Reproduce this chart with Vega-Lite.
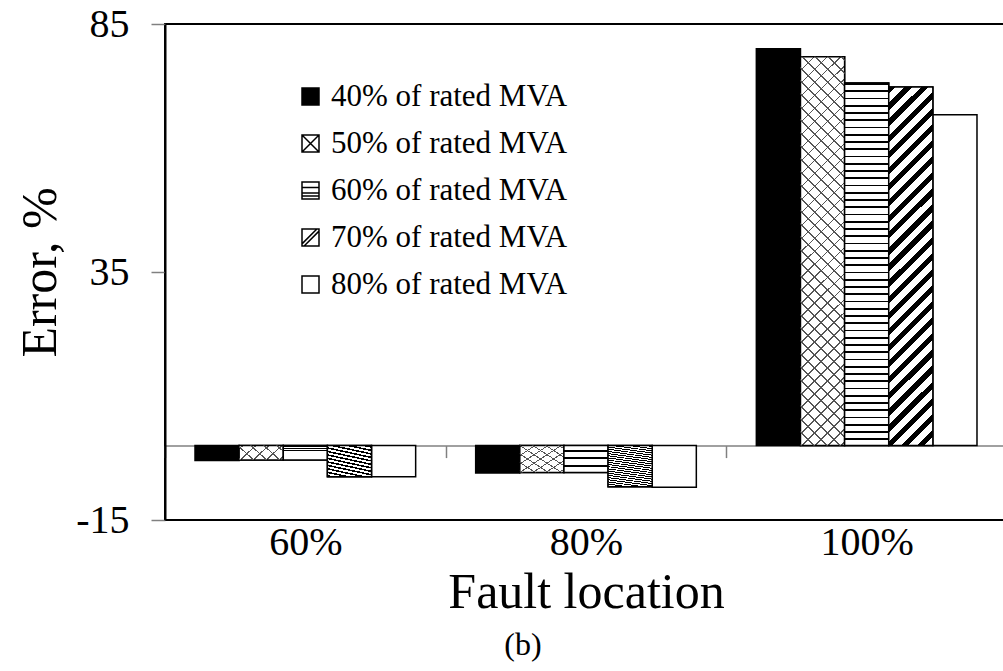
{
"$schema":"https://vega.github.io/schema/vega-lite/v6.json",
"autosize":{"type":"none"},
"padding":{"left":165,"top":24,"right":-4,"bottom":151},
"width":842,"height":496,
"config":{"font":"Liberation Serif","view":{"stroke":"black","strokeWidth":2},"axis":{"labelColor":"black","titleColor":"black","titleFontWeight":"normal","labelFont":"Liberation Serif","titleFont":"Liberation Serif"}},
"title":{"text":"(b)","orient":"bottom","anchor":"middle","fontSize":32,"fontWeight":"normal","font":"Liberation Serif","color":"black","offset":12,"dx":-63},
"data":{"values":[
{"loc":"60%","series":"40% of rated MVA","value":-3.0},
{"loc":"60%","series":"50% of rated MVA","value":-2.9},
{"loc":"60%","series":"60% of rated MVA","value":-2.9},
{"loc":"60%","series":"70% of rated MVA","value":-6.3},
{"loc":"60%","series":"80% of rated MVA","value":-6.3},
{"loc":"80%","series":"40% of rated MVA","value":-5.5},
{"loc":"80%","series":"50% of rated MVA","value":-5.4},
{"loc":"80%","series":"60% of rated MVA","value":-5.4},
{"loc":"80%","series":"70% of rated MVA","value":-8.3},
{"loc":"80%","series":"80% of rated MVA","value":-8.4},
{"loc":"100%","series":"40% of rated MVA","value":80.0},
{"loc":"100%","series":"50% of rated MVA","value":78.4},
{"loc":"100%","series":"60% of rated MVA","value":73.1},
{"loc":"100%","series":"70% of rated MVA","value":72.3},
{"loc":"100%","series":"80% of rated MVA","value":66.7}
]},
"encoding":{
"x":{"field":"loc","type":"nominal","sort":["60%","80%","100%"],"scale":{"paddingInner":0,"paddingOuter":0},
"axis":{"title":"Fault location","labelAngle":0,"offset":-74.4,"domainColor":"#808080","domainWidth":1.5,"tickColor":"#808080","tickWidth":1.5,"tickSize":12,"tickBand":"extent","labelFontSize":40,"labelPadding":65,"titleFontSize":50,"titlePadding":5}},
"xOffset":{"field":"series","type":"nominal","sort":["40% of rated MVA","50% of rated MVA","60% of rated MVA","70% of rated MVA","80% of rated MVA"],"scale":{"paddingInner":0,"paddingOuter":0.68}},
"y":{"field":"value","type":"quantitative","scale":{"domain":[-15,85],"nice":false,"zero":false},
"axis":{"values":[-15,35,85],"grid":false,"title":"Error, %","labelExpr":"replace(datum.label, '\u2212', '-')","domainColor":"black","domainWidth":2,"tickColor":"#808080","tickWidth":1.5,"tickSize":14,"labelFontSize":40,"labelPadding":22,"labelFlush":false,"labelOverlap":false,"titleFontSize":50,"titlePadding":10}}
},
"layer":[
{"mark":{"type":"bar","stroke":"black","strokeWidth":1.5},
"encoding":{"color":{"field":"series","type":"nominal",
"scale":{"domain":["40% of rated MVA","50% of rated MVA","60% of rated MVA","70% of rated MVA","80% of rated MVA"],
"range":["#000000","#ffffff","#ffffff","#ffffff","#ffffff"]},
"legend":{"title":null,"orient":"none","legendX":130,"legendY":57,"symbolType":"square","symbolSize":289,"symbolStrokeColor":"black","symbolStrokeWidth":1.5,"labelFont":"Liberation Serif","labelFontSize":31,"labelColor":"black","labelOffset":5,"rowPadding":15,"padding":0,"labelLimit":0,
"encode":{"symbols":{"update":{"stroke":{"value":"black"},"strokeWidth":{"value":1.5},
"shape":{"signal":"datum.value === '50% of rated MVA' ? 'M-1,-1H1V1H-1Z M-1,-1L1,1 M1,-1L-1,1' : datum.value === '60% of rated MVA' ? 'M-1,-1H1V1H-1Z M-1,-0.35H1 M-1,0.3H1 M-1,0.65H1' : datum.value === '70% of rated MVA' ? 'M-1,-1H1V1H-1Z M-1,0.75L0.75,-1L1,-1L1,-0.75L-0.75,1L-1,1Z' : 'square'"}
}
}
}
}
}
}
},
{"transform":[{"filter":"datum.series === '50% of rated MVA'"}],
"mark":{"type":"bar","stroke":"black","strokeWidth":1.5,"fill":{"gradient":"linear","x1":0,"y1":0,"x2":0.1243,"y2":1.099,"stops":[
{"offset":0,"color":"#555"},{"offset":0.004,"color":"#555"},{"offset":0.004,"color":"#fff"},{"offset":0.03,"color":"#fff"},
{"offset":0.03,"color":"#555"},{"offset":0.034,"color":"#555"},{"offset":0.034,"color":"#fff"},{"offset":0.06,"color":"#fff"},
{"offset":0.06,"color":"#555"},{"offset":0.064,"color":"#555"},{"offset":0.064,"color":"#fff"},{"offset":0.09,"color":"#fff"},
{"offset":0.09,"color":"#555"},{"offset":0.094,"color":"#555"},{"offset":0.094,"color":"#fff"},{"offset":0.12,"color":"#fff"},
{"offset":0.12,"color":"#555"},{"offset":0.124,"color":"#555"},{"offset":0.124,"color":"#fff"},{"offset":0.15,"color":"#fff"},
{"offset":0.15,"color":"#555"},{"offset":0.154,"color":"#555"},{"offset":0.154,"color":"#fff"},{"offset":0.18,"color":"#fff"},
{"offset":0.18,"color":"#555"},{"offset":0.184,"color":"#555"},{"offset":0.184,"color":"#fff"},{"offset":0.21,"color":"#fff"},
{"offset":0.21,"color":"#555"},{"offset":0.214,"color":"#555"},{"offset":0.214,"color":"#fff"},{"offset":0.24,"color":"#fff"},
{"offset":0.24,"color":"#555"},{"offset":0.244,"color":"#555"},{"offset":0.244,"color":"#fff"},{"offset":0.27,"color":"#fff"},
{"offset":0.27,"color":"#555"},{"offset":0.274,"color":"#555"},{"offset":0.274,"color":"#fff"},{"offset":0.3,"color":"#fff"},
{"offset":0.3,"color":"#555"},{"offset":0.304,"color":"#555"},{"offset":0.304,"color":"#fff"},{"offset":0.33,"color":"#fff"},
{"offset":0.33,"color":"#555"},{"offset":0.334,"color":"#555"},{"offset":0.334,"color":"#fff"},{"offset":0.36,"color":"#fff"},
{"offset":0.36,"color":"#555"},{"offset":0.364,"color":"#555"},{"offset":0.364,"color":"#fff"},{"offset":0.39,"color":"#fff"},
{"offset":0.39,"color":"#555"},{"offset":0.394,"color":"#555"},{"offset":0.394,"color":"#fff"},{"offset":0.42,"color":"#fff"},
{"offset":0.42,"color":"#555"},{"offset":0.424,"color":"#555"},{"offset":0.424,"color":"#fff"},{"offset":0.45,"color":"#fff"},
{"offset":0.45,"color":"#555"},{"offset":0.454,"color":"#555"},{"offset":0.454,"color":"#fff"},{"offset":0.48,"color":"#fff"},
{"offset":0.48,"color":"#555"},{"offset":0.484,"color":"#555"},{"offset":0.484,"color":"#fff"},{"offset":0.51,"color":"#fff"},
{"offset":0.51,"color":"#555"},{"offset":0.514,"color":"#555"},{"offset":0.514,"color":"#fff"},{"offset":0.54,"color":"#fff"},
{"offset":0.54,"color":"#555"},{"offset":0.544,"color":"#555"},{"offset":0.544,"color":"#fff"},{"offset":0.57,"color":"#fff"},
{"offset":0.57,"color":"#555"},{"offset":0.574,"color":"#555"},{"offset":0.574,"color":"#fff"},{"offset":0.6,"color":"#fff"},
{"offset":0.6,"color":"#555"},{"offset":0.604,"color":"#555"},{"offset":0.604,"color":"#fff"},{"offset":0.63,"color":"#fff"},
{"offset":0.63,"color":"#555"},{"offset":0.634,"color":"#555"},{"offset":0.634,"color":"#fff"},{"offset":0.66,"color":"#fff"},
{"offset":0.66,"color":"#555"},{"offset":0.664,"color":"#555"},{"offset":0.664,"color":"#fff"},{"offset":0.69,"color":"#fff"},
{"offset":0.69,"color":"#555"},{"offset":0.694,"color":"#555"},{"offset":0.694,"color":"#fff"},{"offset":0.72,"color":"#fff"},
{"offset":0.72,"color":"#555"},{"offset":0.724,"color":"#555"},{"offset":0.724,"color":"#fff"},{"offset":0.75,"color":"#fff"},
{"offset":0.75,"color":"#555"},{"offset":0.754,"color":"#555"},{"offset":0.754,"color":"#fff"},{"offset":0.78,"color":"#fff"},
{"offset":0.78,"color":"#555"},{"offset":0.784,"color":"#555"},{"offset":0.784,"color":"#fff"},{"offset":0.81,"color":"#fff"},
{"offset":0.81,"color":"#555"},{"offset":0.814,"color":"#555"},{"offset":0.814,"color":"#fff"},{"offset":0.84,"color":"#fff"},
{"offset":0.84,"color":"#555"},{"offset":0.844,"color":"#555"},{"offset":0.844,"color":"#fff"},{"offset":0.87,"color":"#fff"},
{"offset":0.87,"color":"#555"},{"offset":0.874,"color":"#555"},{"offset":0.874,"color":"#fff"},{"offset":0.9,"color":"#fff"},
{"offset":0.9,"color":"#555"},{"offset":0.904,"color":"#555"},{"offset":0.904,"color":"#fff"},{"offset":0.93,"color":"#fff"},
{"offset":0.93,"color":"#555"},{"offset":0.934,"color":"#555"},{"offset":0.934,"color":"#fff"},{"offset":0.96,"color":"#fff"},
{"offset":0.96,"color":"#555"},{"offset":0.964,"color":"#555"},{"offset":0.964,"color":"#fff"},{"offset":0.99,"color":"#fff"},
{"offset":0.99,"color":"#555"},{"offset":0.994,"color":"#555"},{"offset":0.994,"color":"#fff"},{"offset":1,"color":"#fff"}
]}},
"encoding":{}},
{"transform":[{"filter":"datum.series === '50% of rated MVA'"}],
"mark":{"type":"bar","strokeWidth":0,"fill":{"gradient":"linear","x1":0,"y1":1,"x2":0.1243,"y2":-0.099,"stops":[
{"offset":0,"color":"#555"},{"offset":0.004,"color":"#555"},{"offset":0.004,"color":"rgba(0,0,0,0)"},{"offset":0.03,"color":"rgba(0,0,0,0)"},
{"offset":0.03,"color":"#555"},{"offset":0.034,"color":"#555"},{"offset":0.034,"color":"rgba(0,0,0,0)"},{"offset":0.06,"color":"rgba(0,0,0,0)"},
{"offset":0.06,"color":"#555"},{"offset":0.064,"color":"#555"},{"offset":0.064,"color":"rgba(0,0,0,0)"},{"offset":0.09,"color":"rgba(0,0,0,0)"},
{"offset":0.09,"color":"#555"},{"offset":0.094,"color":"#555"},{"offset":0.094,"color":"rgba(0,0,0,0)"},{"offset":0.12,"color":"rgba(0,0,0,0)"},
{"offset":0.12,"color":"#555"},{"offset":0.124,"color":"#555"},{"offset":0.124,"color":"rgba(0,0,0,0)"},{"offset":0.15,"color":"rgba(0,0,0,0)"},
{"offset":0.15,"color":"#555"},{"offset":0.154,"color":"#555"},{"offset":0.154,"color":"rgba(0,0,0,0)"},{"offset":0.18,"color":"rgba(0,0,0,0)"},
{"offset":0.18,"color":"#555"},{"offset":0.184,"color":"#555"},{"offset":0.184,"color":"rgba(0,0,0,0)"},{"offset":0.21,"color":"rgba(0,0,0,0)"},
{"offset":0.21,"color":"#555"},{"offset":0.214,"color":"#555"},{"offset":0.214,"color":"rgba(0,0,0,0)"},{"offset":0.24,"color":"rgba(0,0,0,0)"},
{"offset":0.24,"color":"#555"},{"offset":0.244,"color":"#555"},{"offset":0.244,"color":"rgba(0,0,0,0)"},{"offset":0.27,"color":"rgba(0,0,0,0)"},
{"offset":0.27,"color":"#555"},{"offset":0.274,"color":"#555"},{"offset":0.274,"color":"rgba(0,0,0,0)"},{"offset":0.3,"color":"rgba(0,0,0,0)"},
{"offset":0.3,"color":"#555"},{"offset":0.304,"color":"#555"},{"offset":0.304,"color":"rgba(0,0,0,0)"},{"offset":0.33,"color":"rgba(0,0,0,0)"},
{"offset":0.33,"color":"#555"},{"offset":0.334,"color":"#555"},{"offset":0.334,"color":"rgba(0,0,0,0)"},{"offset":0.36,"color":"rgba(0,0,0,0)"},
{"offset":0.36,"color":"#555"},{"offset":0.364,"color":"#555"},{"offset":0.364,"color":"rgba(0,0,0,0)"},{"offset":0.39,"color":"rgba(0,0,0,0)"},
{"offset":0.39,"color":"#555"},{"offset":0.394,"color":"#555"},{"offset":0.394,"color":"rgba(0,0,0,0)"},{"offset":0.42,"color":"rgba(0,0,0,0)"},
{"offset":0.42,"color":"#555"},{"offset":0.424,"color":"#555"},{"offset":0.424,"color":"rgba(0,0,0,0)"},{"offset":0.45,"color":"rgba(0,0,0,0)"},
{"offset":0.45,"color":"#555"},{"offset":0.454,"color":"#555"},{"offset":0.454,"color":"rgba(0,0,0,0)"},{"offset":0.48,"color":"rgba(0,0,0,0)"},
{"offset":0.48,"color":"#555"},{"offset":0.484,"color":"#555"},{"offset":0.484,"color":"rgba(0,0,0,0)"},{"offset":0.51,"color":"rgba(0,0,0,0)"},
{"offset":0.51,"color":"#555"},{"offset":0.514,"color":"#555"},{"offset":0.514,"color":"rgba(0,0,0,0)"},{"offset":0.54,"color":"rgba(0,0,0,0)"},
{"offset":0.54,"color":"#555"},{"offset":0.544,"color":"#555"},{"offset":0.544,"color":"rgba(0,0,0,0)"},{"offset":0.57,"color":"rgba(0,0,0,0)"},
{"offset":0.57,"color":"#555"},{"offset":0.574,"color":"#555"},{"offset":0.574,"color":"rgba(0,0,0,0)"},{"offset":0.6,"color":"rgba(0,0,0,0)"},
{"offset":0.6,"color":"#555"},{"offset":0.604,"color":"#555"},{"offset":0.604,"color":"rgba(0,0,0,0)"},{"offset":0.63,"color":"rgba(0,0,0,0)"},
{"offset":0.63,"color":"#555"},{"offset":0.634,"color":"#555"},{"offset":0.634,"color":"rgba(0,0,0,0)"},{"offset":0.66,"color":"rgba(0,0,0,0)"},
{"offset":0.66,"color":"#555"},{"offset":0.664,"color":"#555"},{"offset":0.664,"color":"rgba(0,0,0,0)"},{"offset":0.69,"color":"rgba(0,0,0,0)"},
{"offset":0.69,"color":"#555"},{"offset":0.694,"color":"#555"},{"offset":0.694,"color":"rgba(0,0,0,0)"},{"offset":0.72,"color":"rgba(0,0,0,0)"},
{"offset":0.72,"color":"#555"},{"offset":0.724,"color":"#555"},{"offset":0.724,"color":"rgba(0,0,0,0)"},{"offset":0.75,"color":"rgba(0,0,0,0)"},
{"offset":0.75,"color":"#555"},{"offset":0.754,"color":"#555"},{"offset":0.754,"color":"rgba(0,0,0,0)"},{"offset":0.78,"color":"rgba(0,0,0,0)"},
{"offset":0.78,"color":"#555"},{"offset":0.784,"color":"#555"},{"offset":0.784,"color":"rgba(0,0,0,0)"},{"offset":0.81,"color":"rgba(0,0,0,0)"},
{"offset":0.81,"color":"#555"},{"offset":0.814,"color":"#555"},{"offset":0.814,"color":"rgba(0,0,0,0)"},{"offset":0.84,"color":"rgba(0,0,0,0)"},
{"offset":0.84,"color":"#555"},{"offset":0.844,"color":"#555"},{"offset":0.844,"color":"rgba(0,0,0,0)"},{"offset":0.87,"color":"rgba(0,0,0,0)"},
{"offset":0.87,"color":"#555"},{"offset":0.874,"color":"#555"},{"offset":0.874,"color":"rgba(0,0,0,0)"},{"offset":0.9,"color":"rgba(0,0,0,0)"},
{"offset":0.9,"color":"#555"},{"offset":0.904,"color":"#555"},{"offset":0.904,"color":"rgba(0,0,0,0)"},{"offset":0.93,"color":"rgba(0,0,0,0)"},
{"offset":0.93,"color":"#555"},{"offset":0.934,"color":"#555"},{"offset":0.934,"color":"rgba(0,0,0,0)"},{"offset":0.96,"color":"rgba(0,0,0,0)"},
{"offset":0.96,"color":"#555"},{"offset":0.964,"color":"#555"},{"offset":0.964,"color":"rgba(0,0,0,0)"},{"offset":0.99,"color":"rgba(0,0,0,0)"},
{"offset":0.99,"color":"#555"},{"offset":0.994,"color":"#555"},{"offset":0.994,"color":"rgba(0,0,0,0)"},{"offset":1,"color":"rgba(0,0,0,0)"}
]}},
"encoding":{}},
{"transform":[{"filter":"datum.series === '60% of rated MVA'"}],
"mark":{"type":"bar","stroke":"black","strokeWidth":1.5,"fill":{"gradient":"linear","x1":0,"y1":0,"x2":0,"y2":1,"stops":[
{"offset":0,"color":"#000"},{"offset":0.005,"color":"#000"},{"offset":0.005,"color":"#fff"},{"offset":0.02,"color":"#fff"},
{"offset":0.02,"color":"#000"},{"offset":0.025,"color":"#000"},{"offset":0.025,"color":"#fff"},{"offset":0.04,"color":"#fff"},
{"offset":0.04,"color":"#000"},{"offset":0.045,"color":"#000"},{"offset":0.045,"color":"#fff"},{"offset":0.06,"color":"#fff"},
{"offset":0.06,"color":"#000"},{"offset":0.065,"color":"#000"},{"offset":0.065,"color":"#fff"},{"offset":0.08,"color":"#fff"},
{"offset":0.08,"color":"#000"},{"offset":0.085,"color":"#000"},{"offset":0.085,"color":"#fff"},{"offset":0.1,"color":"#fff"},
{"offset":0.1,"color":"#000"},{"offset":0.105,"color":"#000"},{"offset":0.105,"color":"#fff"},{"offset":0.12,"color":"#fff"},
{"offset":0.12,"color":"#000"},{"offset":0.125,"color":"#000"},{"offset":0.125,"color":"#fff"},{"offset":0.14,"color":"#fff"},
{"offset":0.14,"color":"#000"},{"offset":0.145,"color":"#000"},{"offset":0.145,"color":"#fff"},{"offset":0.16,"color":"#fff"},
{"offset":0.16,"color":"#000"},{"offset":0.165,"color":"#000"},{"offset":0.165,"color":"#fff"},{"offset":0.18,"color":"#fff"},
{"offset":0.18,"color":"#000"},{"offset":0.185,"color":"#000"},{"offset":0.185,"color":"#fff"},{"offset":0.2,"color":"#fff"},
{"offset":0.2,"color":"#000"},{"offset":0.205,"color":"#000"},{"offset":0.205,"color":"#fff"},{"offset":0.22,"color":"#fff"},
{"offset":0.22,"color":"#000"},{"offset":0.225,"color":"#000"},{"offset":0.225,"color":"#fff"},{"offset":0.24,"color":"#fff"},
{"offset":0.24,"color":"#000"},{"offset":0.245,"color":"#000"},{"offset":0.245,"color":"#fff"},{"offset":0.26,"color":"#fff"},
{"offset":0.26,"color":"#000"},{"offset":0.265,"color":"#000"},{"offset":0.265,"color":"#fff"},{"offset":0.28,"color":"#fff"},
{"offset":0.28,"color":"#000"},{"offset":0.285,"color":"#000"},{"offset":0.285,"color":"#fff"},{"offset":0.3,"color":"#fff"},
{"offset":0.3,"color":"#000"},{"offset":0.305,"color":"#000"},{"offset":0.305,"color":"#fff"},{"offset":0.32,"color":"#fff"},
{"offset":0.32,"color":"#000"},{"offset":0.325,"color":"#000"},{"offset":0.325,"color":"#fff"},{"offset":0.34,"color":"#fff"},
{"offset":0.34,"color":"#000"},{"offset":0.345,"color":"#000"},{"offset":0.345,"color":"#fff"},{"offset":0.36,"color":"#fff"},
{"offset":0.36,"color":"#000"},{"offset":0.365,"color":"#000"},{"offset":0.365,"color":"#fff"},{"offset":0.38,"color":"#fff"},
{"offset":0.38,"color":"#000"},{"offset":0.385,"color":"#000"},{"offset":0.385,"color":"#fff"},{"offset":0.4,"color":"#fff"},
{"offset":0.4,"color":"#000"},{"offset":0.405,"color":"#000"},{"offset":0.405,"color":"#fff"},{"offset":0.42,"color":"#fff"},
{"offset":0.42,"color":"#000"},{"offset":0.425,"color":"#000"},{"offset":0.425,"color":"#fff"},{"offset":0.44,"color":"#fff"},
{"offset":0.44,"color":"#000"},{"offset":0.445,"color":"#000"},{"offset":0.445,"color":"#fff"},{"offset":0.46,"color":"#fff"},
{"offset":0.46,"color":"#000"},{"offset":0.465,"color":"#000"},{"offset":0.465,"color":"#fff"},{"offset":0.48,"color":"#fff"},
{"offset":0.48,"color":"#000"},{"offset":0.485,"color":"#000"},{"offset":0.485,"color":"#fff"},{"offset":0.5,"color":"#fff"},
{"offset":0.5,"color":"#000"},{"offset":0.505,"color":"#000"},{"offset":0.505,"color":"#fff"},{"offset":0.52,"color":"#fff"},
{"offset":0.52,"color":"#000"},{"offset":0.525,"color":"#000"},{"offset":0.525,"color":"#fff"},{"offset":0.54,"color":"#fff"},
{"offset":0.54,"color":"#000"},{"offset":0.545,"color":"#000"},{"offset":0.545,"color":"#fff"},{"offset":0.56,"color":"#fff"},
{"offset":0.56,"color":"#000"},{"offset":0.565,"color":"#000"},{"offset":0.565,"color":"#fff"},{"offset":0.58,"color":"#fff"},
{"offset":0.58,"color":"#000"},{"offset":0.585,"color":"#000"},{"offset":0.585,"color":"#fff"},{"offset":0.6,"color":"#fff"},
{"offset":0.6,"color":"#000"},{"offset":0.605,"color":"#000"},{"offset":0.605,"color":"#fff"},{"offset":0.62,"color":"#fff"},
{"offset":0.62,"color":"#000"},{"offset":0.625,"color":"#000"},{"offset":0.625,"color":"#fff"},{"offset":0.64,"color":"#fff"},
{"offset":0.64,"color":"#000"},{"offset":0.645,"color":"#000"},{"offset":0.645,"color":"#fff"},{"offset":0.66,"color":"#fff"},
{"offset":0.66,"color":"#000"},{"offset":0.665,"color":"#000"},{"offset":0.665,"color":"#fff"},{"offset":0.68,"color":"#fff"},
{"offset":0.68,"color":"#000"},{"offset":0.685,"color":"#000"},{"offset":0.685,"color":"#fff"},{"offset":0.7,"color":"#fff"},
{"offset":0.7,"color":"#000"},{"offset":0.705,"color":"#000"},{"offset":0.705,"color":"#fff"},{"offset":0.72,"color":"#fff"},
{"offset":0.72,"color":"#000"},{"offset":0.725,"color":"#000"},{"offset":0.725,"color":"#fff"},{"offset":0.74,"color":"#fff"},
{"offset":0.74,"color":"#000"},{"offset":0.745,"color":"#000"},{"offset":0.745,"color":"#fff"},{"offset":0.76,"color":"#fff"},
{"offset":0.76,"color":"#000"},{"offset":0.765,"color":"#000"},{"offset":0.765,"color":"#fff"},{"offset":0.78,"color":"#fff"},
{"offset":0.78,"color":"#000"},{"offset":0.785,"color":"#000"},{"offset":0.785,"color":"#fff"},{"offset":0.8,"color":"#fff"},
{"offset":0.8,"color":"#000"},{"offset":0.805,"color":"#000"},{"offset":0.805,"color":"#fff"},{"offset":0.82,"color":"#fff"},
{"offset":0.82,"color":"#000"},{"offset":0.825,"color":"#000"},{"offset":0.825,"color":"#fff"},{"offset":0.84,"color":"#fff"},
{"offset":0.84,"color":"#000"},{"offset":0.845,"color":"#000"},{"offset":0.845,"color":"#fff"},{"offset":0.86,"color":"#fff"},
{"offset":0.86,"color":"#000"},{"offset":0.865,"color":"#000"},{"offset":0.865,"color":"#fff"},{"offset":0.88,"color":"#fff"},
{"offset":0.88,"color":"#000"},{"offset":0.885,"color":"#000"},{"offset":0.885,"color":"#fff"},{"offset":0.9,"color":"#fff"},
{"offset":0.9,"color":"#000"},{"offset":0.905,"color":"#000"},{"offset":0.905,"color":"#fff"},{"offset":0.92,"color":"#fff"},
{"offset":0.92,"color":"#000"},{"offset":0.925,"color":"#000"},{"offset":0.925,"color":"#fff"},{"offset":0.94,"color":"#fff"},
{"offset":0.94,"color":"#000"},{"offset":0.945,"color":"#000"},{"offset":0.945,"color":"#fff"},{"offset":0.96,"color":"#fff"},
{"offset":0.96,"color":"#000"},{"offset":0.965,"color":"#000"},{"offset":0.965,"color":"#fff"},{"offset":0.98,"color":"#fff"},
{"offset":0.98,"color":"#000"},{"offset":0.985,"color":"#000"},{"offset":0.985,"color":"#fff"},{"offset":1,"color":"#fff"}
]}},
"encoding":{}},
{"transform":[{"filter":"datum.series === '70% of rated MVA'"}],
"mark":{"type":"bar","stroke":"black","strokeWidth":1.5,"fill":{"gradient":"linear","x1":0,"y1":0,"x2":0.1357,"y2":1.106,"stops":[
{"offset":0,"color":"#000"},{"offset":0.018,"color":"#000"},{"offset":0.018,"color":"#fff"},{"offset":0.04,"color":"#fff"},
{"offset":0.04,"color":"#000"},{"offset":0.058,"color":"#000"},{"offset":0.058,"color":"#fff"},{"offset":0.08,"color":"#fff"},
{"offset":0.08,"color":"#000"},{"offset":0.098,"color":"#000"},{"offset":0.098,"color":"#fff"},{"offset":0.12,"color":"#fff"},
{"offset":0.12,"color":"#000"},{"offset":0.138,"color":"#000"},{"offset":0.138,"color":"#fff"},{"offset":0.16,"color":"#fff"},
{"offset":0.16,"color":"#000"},{"offset":0.178,"color":"#000"},{"offset":0.178,"color":"#fff"},{"offset":0.2,"color":"#fff"},
{"offset":0.2,"color":"#000"},{"offset":0.218,"color":"#000"},{"offset":0.218,"color":"#fff"},{"offset":0.24,"color":"#fff"},
{"offset":0.24,"color":"#000"},{"offset":0.258,"color":"#000"},{"offset":0.258,"color":"#fff"},{"offset":0.28,"color":"#fff"},
{"offset":0.28,"color":"#000"},{"offset":0.298,"color":"#000"},{"offset":0.298,"color":"#fff"},{"offset":0.32,"color":"#fff"},
{"offset":0.32,"color":"#000"},{"offset":0.338,"color":"#000"},{"offset":0.338,"color":"#fff"},{"offset":0.36,"color":"#fff"},
{"offset":0.36,"color":"#000"},{"offset":0.378,"color":"#000"},{"offset":0.378,"color":"#fff"},{"offset":0.4,"color":"#fff"},
{"offset":0.4,"color":"#000"},{"offset":0.418,"color":"#000"},{"offset":0.418,"color":"#fff"},{"offset":0.44,"color":"#fff"},
{"offset":0.44,"color":"#000"},{"offset":0.458,"color":"#000"},{"offset":0.458,"color":"#fff"},{"offset":0.48,"color":"#fff"},
{"offset":0.48,"color":"#000"},{"offset":0.498,"color":"#000"},{"offset":0.498,"color":"#fff"},{"offset":0.52,"color":"#fff"},
{"offset":0.52,"color":"#000"},{"offset":0.538,"color":"#000"},{"offset":0.538,"color":"#fff"},{"offset":0.56,"color":"#fff"},
{"offset":0.56,"color":"#000"},{"offset":0.578,"color":"#000"},{"offset":0.578,"color":"#fff"},{"offset":0.6,"color":"#fff"},
{"offset":0.6,"color":"#000"},{"offset":0.618,"color":"#000"},{"offset":0.618,"color":"#fff"},{"offset":0.64,"color":"#fff"},
{"offset":0.64,"color":"#000"},{"offset":0.658,"color":"#000"},{"offset":0.658,"color":"#fff"},{"offset":0.68,"color":"#fff"},
{"offset":0.68,"color":"#000"},{"offset":0.698,"color":"#000"},{"offset":0.698,"color":"#fff"},{"offset":0.72,"color":"#fff"},
{"offset":0.72,"color":"#000"},{"offset":0.738,"color":"#000"},{"offset":0.738,"color":"#fff"},{"offset":0.76,"color":"#fff"},
{"offset":0.76,"color":"#000"},{"offset":0.778,"color":"#000"},{"offset":0.778,"color":"#fff"},{"offset":0.8,"color":"#fff"},
{"offset":0.8,"color":"#000"},{"offset":0.818,"color":"#000"},{"offset":0.818,"color":"#fff"},{"offset":0.84,"color":"#fff"},
{"offset":0.84,"color":"#000"},{"offset":0.858,"color":"#000"},{"offset":0.858,"color":"#fff"},{"offset":0.88,"color":"#fff"},
{"offset":0.88,"color":"#000"},{"offset":0.898,"color":"#000"},{"offset":0.898,"color":"#fff"},{"offset":0.92,"color":"#fff"},
{"offset":0.92,"color":"#000"},{"offset":0.938,"color":"#000"},{"offset":0.938,"color":"#fff"},{"offset":0.96,"color":"#fff"},
{"offset":0.96,"color":"#000"},{"offset":0.978,"color":"#000"},{"offset":0.978,"color":"#fff"},{"offset":1,"color":"#fff"}
]}},
"encoding":{}}
]
}
